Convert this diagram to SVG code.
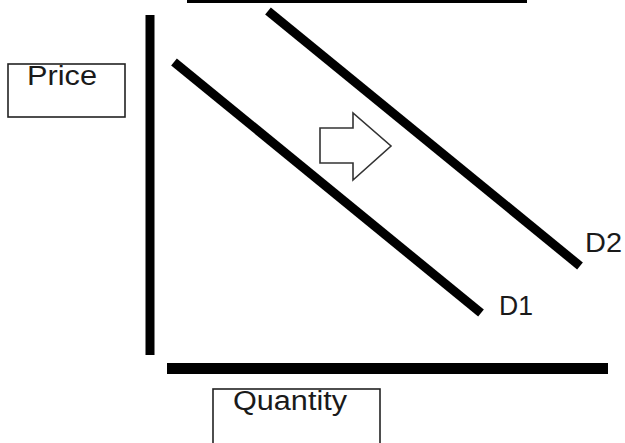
<svg xmlns="http://www.w3.org/2000/svg" width="625" height="443" viewBox="0 0 625 443">
<style>
.lbl{font-family:"Liberation Sans",Arial,sans-serif;font-size:27px;fill:#1a1a1a}
.box{fill:#fff;stroke:#222;stroke-width:1.6}
.thick{stroke:#000;stroke-width:9;fill:none}
</style>
<rect width="625" height="443" fill="#fff"/>
<g id="connectors">
<line x1="187" y1="1.5" x2="527" y2="1.5" stroke="#000" stroke-width="3"/>
<line id="y-axis" class="thick" x1="150" y1="15" x2="150" y2="355"/>
<line id="x-axis" class="thick" x1="167" y1="368.5" x2="608" y2="368.5" style="stroke-width:11"/>
<line id="D1-line" class="thick" x1="174" y1="62" x2="481" y2="313"/>
<line id="D2-line" class="thick" x1="268" y1="11" x2="580" y2="266"/>
</g>
<g id="price">
<rect class="box" x="8" y="64" width="117" height="53"/>
<text class="lbl" x="27" y="85" textLength="70" lengthAdjust="spacingAndGlyphs">Price</text>
</g>
<g id="quantity">
<rect class="box" x="213" y="389" width="167" height="60"/>
<text class="lbl" x="233" y="410" textLength="114" lengthAdjust="spacingAndGlyphs">Quantity</text>
</g>
<g id="shift-arrow">
<polygon points="320,128 353,128 353,113 391,146 353,180 353,163 320,163" fill="#fff" stroke="#333" stroke-width="1.6"/>
</g>
<g id="D1"><text class="lbl" x="499" y="315" textLength="34" lengthAdjust="spacingAndGlyphs">D1</text></g>
<g id="D2"><text class="lbl" x="585" y="252" textLength="37" lengthAdjust="spacingAndGlyphs">D2</text></g>
</svg>
